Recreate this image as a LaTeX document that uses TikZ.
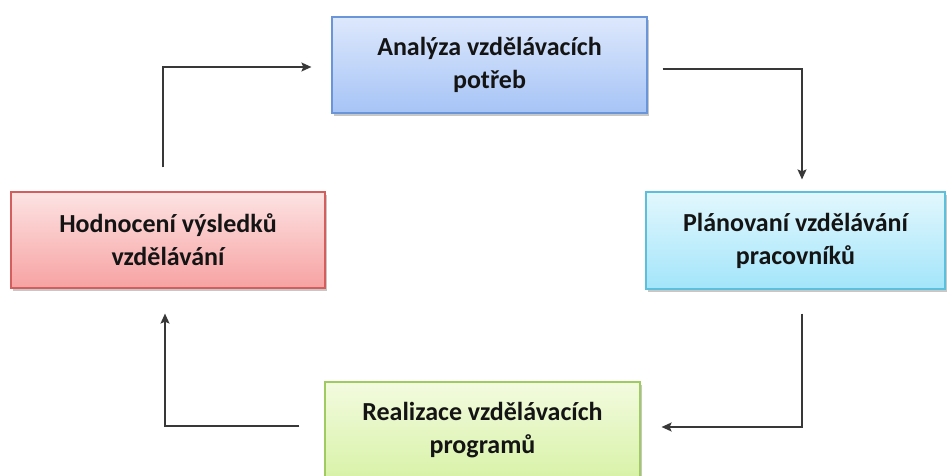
\documentclass[tikz,border=0pt]{standalone}
\usepackage{fontspec}
\setmainfont{Carlito}
\usetikzlibrary{arrows.meta,shadows}
\definecolor{tTop}{HTML}{DDE8FC}\definecolor{tBot}{HTML}{A6C4F6}\definecolor{tBrd}{HTML}{6A95D8}
\definecolor{rTop}{HTML}{E2F7FD}\definecolor{rBot}{HTML}{A3E5FA}\definecolor{rBrd}{HTML}{5CBFDC}
\definecolor{lTop}{HTML}{FDE3E3}\definecolor{lBot}{HTML}{F7A2A2}\definecolor{lBrd}{HTML}{D45E5E}
\definecolor{bTop}{HTML}{F3FBDF}\definecolor{bBot}{HTML}{D8F2A8}\definecolor{bBrd}{HTML}{A0CB60}
\definecolor{lineC}{HTML}{383838}
\definecolor{txtC}{HTML}{141414}
\tikzset{
  box/.style={draw, line width=1.2pt, rectangle, align=center, inner sep=0pt,
    font=\bfseries\fontsize{26}{33}\selectfont, text=txtC,
    drop shadow={shadow xshift=2pt, shadow yshift=-3pt, fill=black, opacity=0.22}},
  arr/.style={draw=lineC, line width=1.5pt, -{Stealth[length=10pt,width=9pt,inset=2pt]}}
}
\begin{document}
\begin{tikzpicture}[x=1pt,y=-1pt]
\clip (0,0) rectangle (947,476);
\fill[white] (0,0) rectangle (947,476);
\node[box, draw=tBrd, top color=tTop, bottom color=tBot, minimum width=315pt, minimum height=96pt] (T) at (489.5,65) {Analýza vzdělávacích\\potřeb};
\node[box, draw=rBrd, top color=rTop, bottom color=rBot, minimum width=299pt, minimum height=97pt] (R) at (795.5,240.5) {Plánovaní vzdělávání\\pracovníků};
\node[box, draw=lBrd, top color=lTop, bottom color=lBot, minimum width=314pt, minimum height=96pt] (L) at (168,240) {Hodnocení výsledků\\vzdělávání};
\node[box, draw=bBrd, top color=bTop, bottom color=bBot, minimum width=315pt, minimum height=96pt] (B) at (482.5,430) {Realizace vzdělávacích\\programů};
\draw[arr] ([xshift=-5pt,yshift=24pt]L.north) |- ([xshift=-20pt,yshift=-2pt]T.west);
\draw[arr] ([xshift=15pt,yshift=-4pt]T.east) -| ([xshift=6.5pt,yshift=12pt]R.north);
\draw[arr] ([xshift=6.5pt,yshift=-24pt]R.south) |- ([xshift=21pt,yshift=3pt]B.east);
\draw[arr] ([xshift=-25pt,yshift=4pt]B.west) -| ([xshift=-3pt,yshift=-25pt]L.south);
\end{tikzpicture}
\end{document}
